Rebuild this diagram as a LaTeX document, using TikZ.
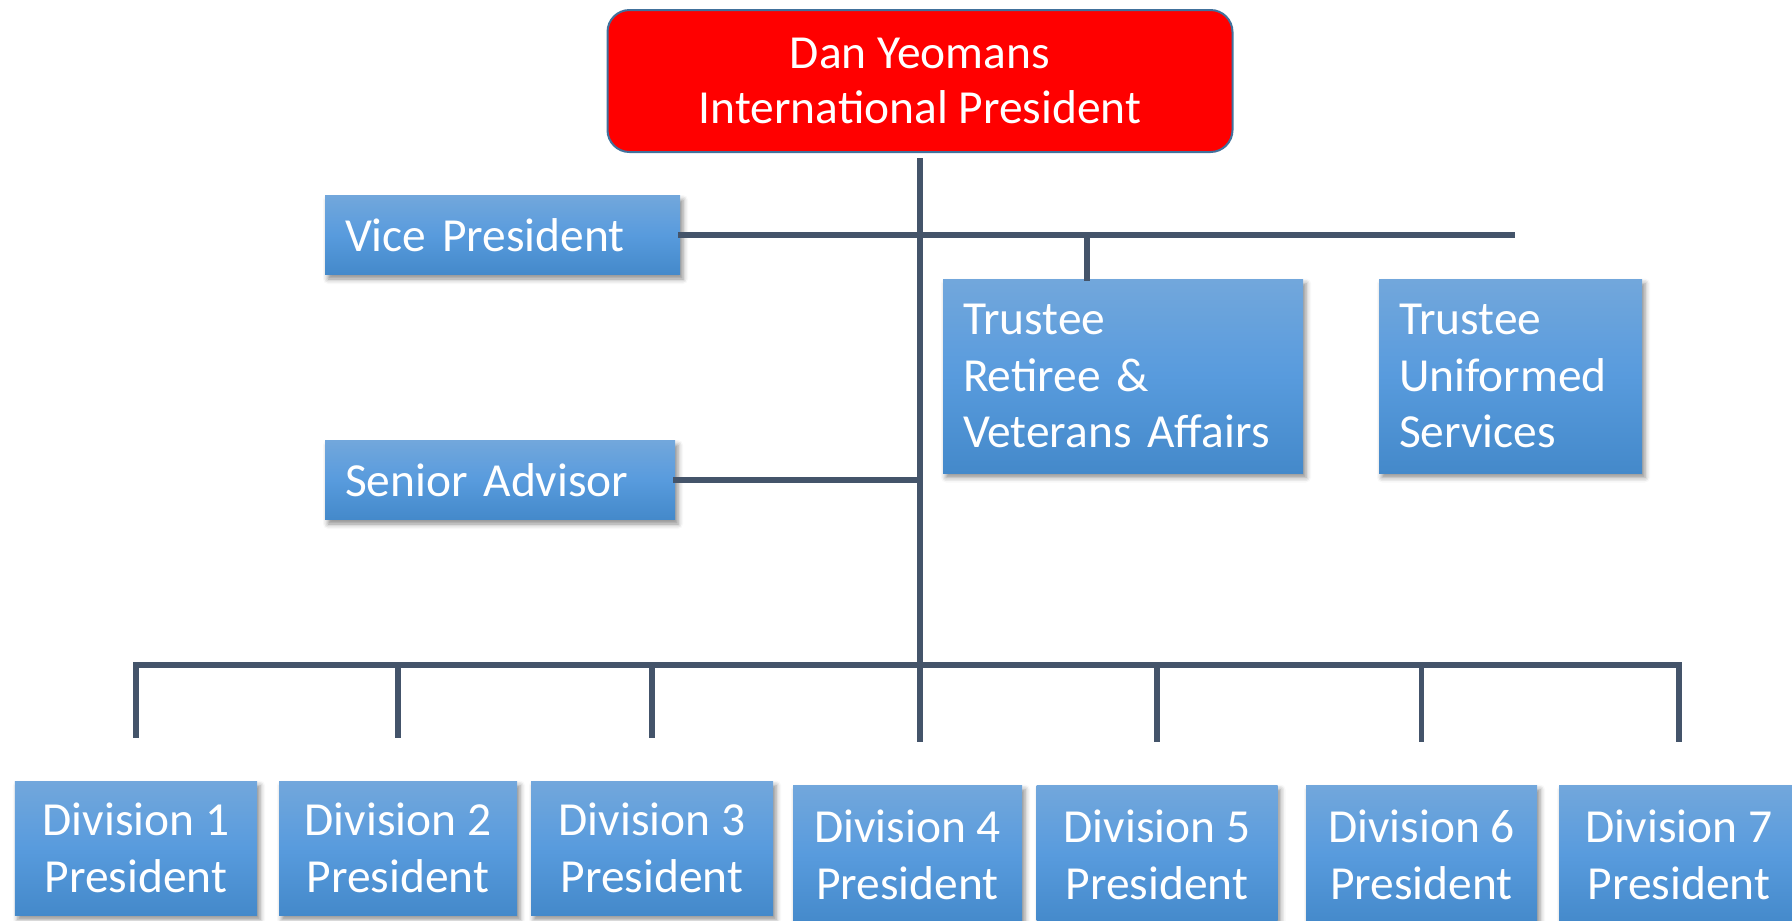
\documentclass[tikz,border=0pt]{standalone}
\usepackage{fontspec}
\setmainfont{Carlito}
\usetikzlibrary{shadows.blur}

\definecolor{presred}{RGB}{255,0,0}
\definecolor{presedge}{RGB}{65,113,156}
\definecolor{boxtop}{RGB}{114,167,220}
\definecolor{boxmid}{RGB}{88,155,221}
\definecolor{boxbot}{RGB}{68,137,202}
\definecolor{linkgrey}{RGB}{68,84,106}

\begin{document}
\begin{tikzpicture}[x=0.2mm, y=-0.2mm,
  link/.style={draw=linkgrey, line width=1.1mm, line cap=rect},
  post/.style={rectangle, inner xsep=4mm, inner ysep=0pt, text=white,
    top color=boxtop, bottom color=boxbot, middle color=boxmid,
    blur shadow={shadow xshift=0.6mm, shadow yshift=-0.9mm,
      shadow blur radius=1mm, shadow opacity=45},
    font=\fontsize{27}{32.4}\selectfont},
  leftpost/.style={post, align=left},
  divpost/.style={post, align=center, inner xsep=0pt}]
\useasboundingbox (0,0) rectangle (1792,920);

% president
\node[rectangle, rounded corners=4.4mm, draw=presedge, line width=0.4mm,
  fill=presred, text=white, align=center, minimum width=125mm,
  minimum height=28.4mm, font=\fontsize{27}{31.3}\selectfont]
  (top) at (920,81) {Dan Yeomans\\International President};

% officers
\node[leftpost, text width=63mm, minimum height=15.8mm] (vp) at (502.5,235) {Vice President};
\node[leftpost, text width=62mm, minimum height=15.8mm] (sa) at (500,480) {Senior Advisor};
\node[leftpost, text width=64mm, minimum height=38.8mm] (t1) at (1123,376) {Trustee\\Retiree \&\\Veterans Affairs};
\node[leftpost, text width=44.6mm, minimum height=38.8mm] (t2) at (1510.5,376) {Trustee\\Uniformed\\Services};

% divisions
\node[divpost, minimum width=48.4mm, minimum height=26.8mm] (d1) at (136,848) {Division 1\\President};
\node[divpost, minimum width=47.6mm, minimum height=26.8mm] (d2) at (398,848) {Division 2\\President};
\node[divpost, minimum width=48.4mm, minimum height=26.8mm] (d3) at (652,848) {Division 3\\President};
\node[divpost, minimum width=45.8mm, minimum height=28mm] (d4) at (907.5,855) {Division 4\\President};
\node[divpost, minimum width=48.2mm, minimum height=28mm] (d5) at (1157,855) {Division 5\\President};
\node[divpost, minimum width=46.2mm, minimum height=28mm] (d6) at (1421.5,855) {Division 6\\President};
\node[divpost, minimum width=48mm, minimum height=28mm] (d7) at (1679,855) {Division 7\\President};

\coordinate (hub) at (920,665);
\coordinate (vpend) at (1512,235);
\coordinate (t1tap) at (1087,235);

% lines
\draw[link, shorten <=1.6mm] (top.south) -- (hub);
\draw[link] (vp.east) -- (vpend);
\draw[link] (t1tap) -- (t1tap |- t1.north);
\draw[link] (sa.east) -- (sa.east -| hub);
\draw[link] (hub -| d1) -- (hub -| d7);
\draw[link, shorten >=9mm] (hub) -- (hub |- d4.north);
\foreach \i in {1,2,3,5,6,7}
  \draw[link, shorten >=9mm] (hub -| d\i) -- (d\i.north);
\end{tikzpicture}
\end{document}
